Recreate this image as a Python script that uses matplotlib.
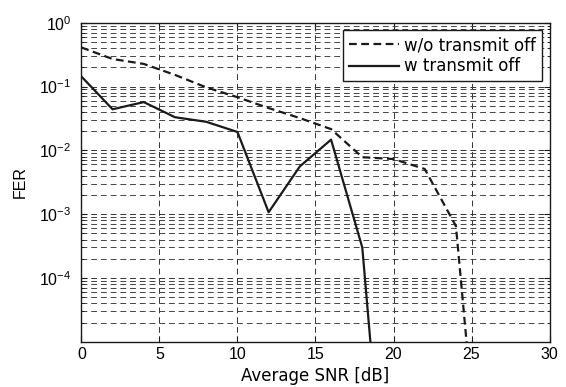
import matplotlib
matplotlib.use("Agg")
import matplotlib.pyplot as plt
import numpy as np
from matplotlib.ticker import LogLocator, FixedLocator, NullFormatter

snr_wo = [0, 2, 4, 6, 8, 10, 12, 14, 16, 18, 20, 22, 24, 26]
fer_wo = [0.41, 0.27, 0.226, 0.152, 0.097, 0.068, 0.046, 0.032, 0.0215,
          0.0078, 0.0073, 0.0051, 6.5e-4, 3e-9]

snr_w = [0, 2, 4, 6, 8, 10, 12, 14, 16, 18, 20]
fer_w = [0.144, 0.044, 0.057, 0.033, 0.028, 0.0194, 0.00107, 0.0056,
         0.0147, 3.0e-4, 6e-10]

xticks = [0, 5, 10, 15, 20, 25, 30]
yticks = [1e-4, 1e-3, 1e-2, 1e-1, 1e0]
ytick_labels = [r"$10^{-4}$", r"$10^{-3}$", r"$10^{-2}$", r"$10^{-1}$", r"$10^{0}$"]

plt.rcParams['font.family'] = ['Liberation Sans', 'DejaVu Sans']
plt.rcParams['mathtext.fontset'] = 'custom'
plt.rcParams['mathtext.rm'] = 'Liberation Sans'
plt.rcParams['mathtext.it'] = 'Liberation Sans'

fig = plt.figure(figsize=(5.66, 3.87), dpi=100)
ax = fig.add_axes([0.1437, 0.117, 0.971 - 0.1437, 0.9413 - 0.117])

ax.plot(snr_wo, fer_wo, color='#1a1a1a', lw=1.6, ls='--', dashes=(3.5, 2),
        label='w/o transmit off')
ax.plot(snr_w, fer_w, color='#1a1a1a', lw=1.6, ls='-', label='w transmit off')

ax.set_yscale('log')
ax.set_xlim(0, 30)
ax.set_ylim(1e-5, 1)
ax.set_xticks(xticks)
ax.set_xticklabels([str(t) for t in xticks])
ax.yaxis.set_major_locator(FixedLocator(yticks))
ax.set_yticklabels(ytick_labels)
ax.yaxis.set_minor_locator(LogLocator(base=10, subs=np.arange(2, 10), numticks=20))
ax.yaxis.set_minor_formatter(NullFormatter())

ax.grid(True, which='major', axis='both', color='#333333', lw=0.7,
        ls=(0, (6, 4)))
ax.grid(True, which='minor', axis='y', color='#444444', lw=0.7,
        ls=(0, (6, 4)))

ax.tick_params(which='both', direction='in', top=True, right=True,
               labelsize=11.5, color='#1a1a1a')
ax.tick_params(which='major', length=4)
ax.tick_params(which='minor', length=2.5)
ax.tick_params(axis='y', which='major', pad=7)
for s in ax.spines.values():
    s.set_color('#1a1a1a')
    s.set_linewidth(1.0)

ax.set_xlabel('Average SNR [dB]', fontsize=12, family=['DejaVu Sans'], labelpad=4)
ax.set_ylabel('FER', fontsize=11.5, family=['Liberation Sans'], labelpad=8)

leg = ax.legend(loc='upper right', fancybox=False, framealpha=1,
                edgecolor='#1a1a1a', handlelength=3.0,
                prop={'family': ['DejaVu Sans'], 'size': 12},
                borderpad=0.35, labelspacing=0.2, borderaxespad=0.45, handletextpad=0.35)
leg.get_frame().set_linewidth(1.0)

fig.savefig('out.png', dpi=100)
